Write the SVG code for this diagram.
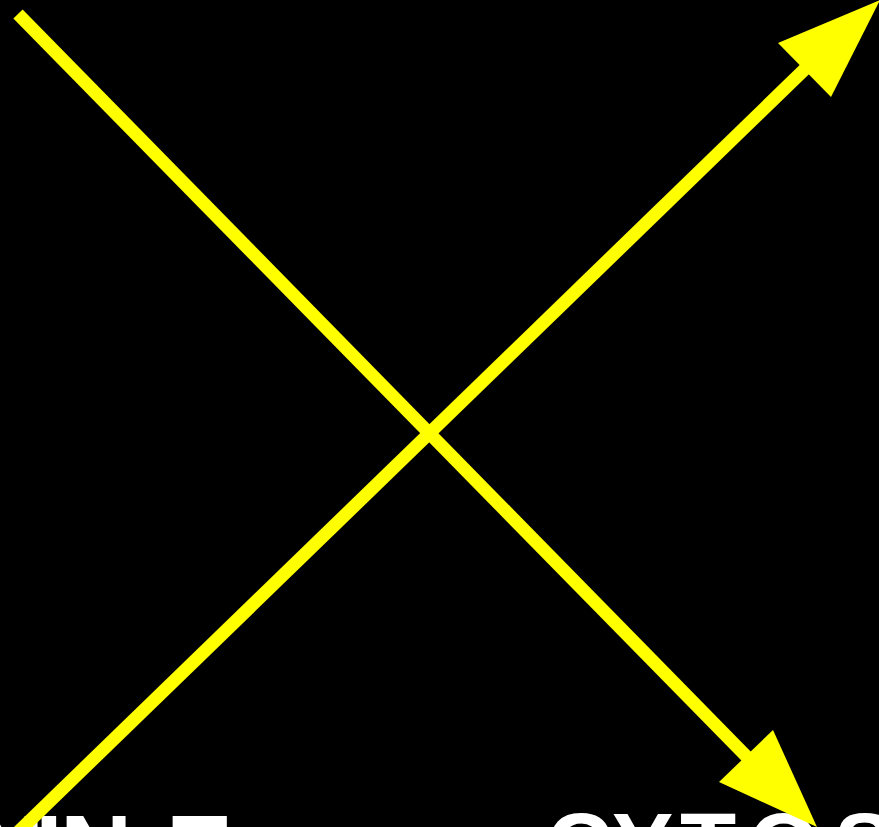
<svg xmlns="http://www.w3.org/2000/svg" width="879" height="827" viewBox="0 0 879 827">
<style>
.lbl{font-family:"Liberation Sans",Arial,sans-serif;font-weight:bold;fill:#ffffff}
.ln{stroke:#ffff00;stroke-width:13;fill:none}
.hd{fill:#ffff00}
</style>
<rect width="879" height="827" fill="#000000"/>
<g id="label-left"><text class="lbl" font-size="100" x="-28 35 60 166" y="885">NINE</text></g>
<g id="label-right"><text class="lbl" font-size="92" x="546 612 680 748 834" y="878">CYTOS</text></g>
<g id="connectors">
<line class="ln" x1="18" y1="14" x2="748" y2="758"/>
<polygon class="hd" points="773,730 719,782 817,827"/>
<line class="ln" x1="14" y1="836" x2="806" y2="68"/>
<polygon class="hd" points="778,43 831,97 880,0"/>
</g>
</svg>
